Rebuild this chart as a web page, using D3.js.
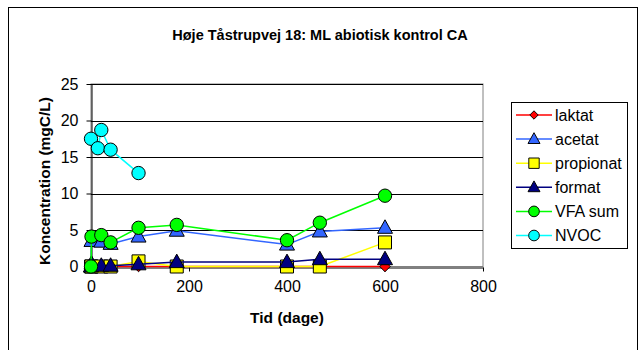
<!DOCTYPE html>
<html>
<head>
<meta charset="utf-8">
<script src="https://cdn.jsdelivr.net/npm/d3@7"></script>
<style>
  body { margin: 0; background: #fff; }
  text { font-family: "Liberation Sans", Arial, sans-serif; }
</style>
</head>
<body>
<svg id="chart" width="640" height="350"></svg>
<script>
var days = [0, 1, 21, 40, 97, 175, 400, 467, 600];
var laktat = [0, 0, 0, 0, 0, 0, 0, 0, 0];
var acetat = [0, 3.5, 3.4, 3.1, 4.1, 4.9, 3.0, 4.8, 5.3];
var propionat = [0, 0, 0, 0, 0.7, 0, 0, 0, 3.3];
var format = [0, 0.4, 0.1, 0.1, 0.3, 0.6, 0.6, 1.0, 1.0];
var vfaSum = [0, 4.1, 4.3, 3.3, 5.3, 5.7, 3.6, 6.0, 9.7];
var nvocDays = [0, 14, 21, 40, 97];
var nvoc = [17.5, 16.2, 18.7, 16.0, 12.8];

var xTicks = [0, 200, 400, 600, 800];
var yTicks = [0, 5, 10, 15, 20, 25];

var series = [
    { name: 'laktat', x: days, y: laktat, line: '#ff0000', fill: '#ff0000', shape: 'diamond' },
    { name: 'acetat', x: days, y: acetat, line: '#3366ff', fill: '#3366ff', shape: 'triangle' },
    { name: 'propionat', x: days, y: propionat, line: '#ffff00', fill: '#ffff00', shape: 'square' },
    { name: 'format', x: days, y: format, line: '#000080', fill: '#000080', shape: 'triangle' },
    { name: 'VFA sum', x: days, y: vfaSum, line: '#00ff00', fill: '#00ff00', shape: 'circle' },
    { name: 'NVOC', x: nvocDays, y: nvoc, line: '#00ffff', fill: '#00ffff', shape: 'circle' }
];

var svg = d3.select('#chart');

// chart area border (bottom edge is cut off in the original)
svg.append('rect')
    .attr('x', 8.5).attr('y', 7.5)
    .attr('width', 629).attr('height', 360)
    .attr('fill', '#fff').attr('stroke', '#000').attr('stroke-width', 1);

var plotLeft = 91, plotRight = 483, plotTop = 84, plotBottom = 266.5;

var x = d3.scaleLinear().domain([0, 800]).range([plotLeft, plotRight]);
var y = d3.scaleLinear().domain([0, 25]).range([plotBottom, plotTop]);

svg.append('text')
    .attr('x', 320).attr('y', 40)
    .attr('text-anchor', 'middle')
    .attr('font-size', 14.5).attr('font-weight', 'bold')
    .text('Høje Tåstrupvej 18: ML abiotisk kontrol CA');

// plot area
svg.append('rect')
    .attr('x', plotLeft).attr('y', plotTop)
    .attr('width', plotRight - plotLeft).attr('height', plotBottom - plotTop)
    .attr('fill', '#fff').attr('stroke', '#808080');

// gridlines
svg.append('g').selectAll('line')
    .data(yTicks.filter(d => d > 0))
    .enter().append('line')
    .attr('x1', plotLeft).attr('x2', plotRight)
    .attr('y1', d => Math.round(y(d)) + 0.5).attr('y2', d => Math.round(y(d)) + 0.5)
    .attr('stroke', '#000');

var yAxis = svg.append('g')
    .attr('transform', `translate(${plotLeft + 0.5},0)`)
    .call(d3.axisLeft(y).tickValues(yTicks).tickSize(5).tickPadding(8).tickSizeOuter(0));

var xAxis = svg.append('g')
    .attr('transform', `translate(0,${Math.round(plotBottom) + 0.5})`)
    .call(d3.axisBottom(x).tickValues(xTicks).tickSize(4).tickPadding(9).tickSizeOuter(0));

[yAxis, xAxis].forEach(function (g) {
    g.select('.domain').attr('stroke', '#000');
    g.selectAll('.tick line').attr('stroke', '#000');
    g.selectAll('.tick text')
        .attr('font-family', '"Liberation Sans", Arial, sans-serif')
        .attr('font-size', 16).attr('fill', '#000');
});

svg.append('text')
    .attr('x', 287).attr('y', 323)
    .attr('text-anchor', 'middle')
    .attr('font-size', 15.5).attr('font-weight', 'bold')
    .text('Tid (dage)');

svg.append('text')
    .attr('transform', 'translate(50,181) rotate(-90)')
    .attr('text-anchor', 'middle')
    .attr('font-size', 15.5).attr('font-weight', 'bold')
    .text('Koncentration (mgC/L)');

function markerPath(shape) {
    if (shape === 'diamond') return d3.symbol(d3.symbolDiamond2, 70)();
    if (shape === 'triangle') return 'M0,-8L7.5,5.5L-7.5,5.5Z';
    if (shape === 'square') return 'M-6.5,-6.5H6.5V6.5H-6.5Z';
    return d3.symbol(d3.symbolCircle, 140)();
}

var line = d3.line().x(d => x(d[0])).y(d => y(d[1]));

series.forEach(function (s) {
    var pts = s.x.map((d, i) => [d, s.y[i]]);
    var g = svg.append('g');
    g.append('path')
        .attr('d', line(pts))
        .attr('fill', 'none')
        .attr('stroke', s.line).attr('stroke-width', 1.5);
    g.selectAll('path.m')
        .data(pts)
        .enter().append('path')
        .attr('class', 'm')
        .attr('d', markerPath(s.shape))
        .attr('transform', d => `translate(${x(d[0])},${y(d[1])})`)
        .attr('fill', s.fill)
        .attr('stroke', '#000').attr('stroke-width', 1);
});

// legend
var legend = svg.append('g');
legend.append('rect')
    .attr('x', 511.5).attr('y', 102.5)
    .attr('width', 116).attr('height', 146)
    .attr('fill', '#fff').attr('stroke', '#000');

var items = legend.selectAll('g.item')
    .data(series)
    .enter().append('g')
    .attr('class', 'item')
    .attr('transform', (d, i) => `translate(0,${115 + i * 24.1})`);

items.append('line')
    .attr('x1', 516).attr('x2', 552)
    .attr('stroke', d => d.line).attr('stroke-width', 1.5);
items.append('path')
    .attr('d', d => markerPath(d.shape))
    .attr('transform', 'translate(534,0) scale(0.8)')
    .attr('fill', d => d.fill)
    .attr('stroke', '#000').attr('stroke-width', 1.2);
items.append('text')
    .attr('x', 555).attr('y', 5.5)
    .attr('font-size', 16)
    .text(d => d.name);
</script>
</body>
</html>
